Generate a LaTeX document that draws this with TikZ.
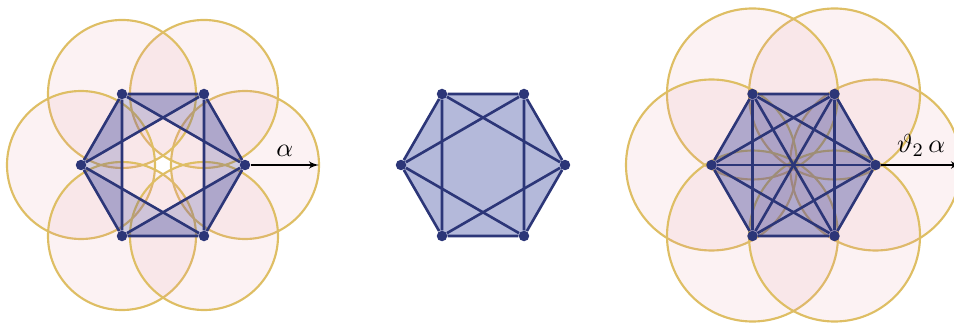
\documentclass[tikz,border=0pt]{standalone}
\usepackage{amsmath,amssymb}
\usetikzlibrary{arrows,calc,backgrounds}
\definecolor{hexline}{RGB}{44,54,120}
\definecolor{hexfill}{RGB}{40,55,150}
\definecolor{ringgold}{RGB}{222,190,100}
\definecolor{ringpink}{RGB}{230,150,160}
\begin{document}
\begin{tikzpicture}[x=0.42pt, y=0.42pt, >=latex',
    vtx/.style={circle, fill=hexline, inner sep=0pt, minimum size=4.4pt},
    edge/.style={draw=hexline, line width=1.1pt},
    ring/.style={draw=ringgold, line width=0.9pt, fill=ringpink, fill opacity=0.12},
    ear/.style={fill=hexfill, fill opacity=0.2},
    hexarea/.style={fill=hexfill, fill opacity=0.35},
    radius/.style={->, black, line width=0.5pt},
    lbl/.style={font=\fontsize{11}{13}\selectfont}]
    \useasboundingbox (0,-159) rectangle (954,165);
    % Vertices of the three hexagons
    \foreach \i in {0,...,5} {
        \node[vtx] (l\i) at ($(163,0)+(60*\i:82)$) {};
        \node[vtx] (m\i) at ($(483,0)+(60*\i:82)$) {};
        \node[vtx] (r\i) at ($(793.5,0)+(60*\i:82)$) {};
    }
    \begin{pgfonlayer}{background}
        % Left: discs of radius alpha, ear triangles
        \foreach \i in {0,...,5}
            \draw[ring] (l\i.center) circle (74);
        \foreach \i/\j/\k in {0/1/2,1/2/3,2/3/4,3/4/5,4/5/0,5/0/1}
            \fill[ear] (l\i.center) -- (l\j.center) -- (l\k.center) -- cycle;
        % Middle: full hexagon
        \fill[hexarea] (m0.center) -- (m1.center) -- (m2.center) -- (m3.center) -- (m4.center) -- (m5.center) -- cycle;
        % Right: discs of radius theta_2 alpha, full hexagon
        \foreach \i in {0,...,5}
            \draw[ring] (r\i.center) circle (85.5);
        \fill[hexarea] (r0.center) -- (r1.center) -- (r2.center) -- (r3.center) -- (r4.center) -- (r5.center) -- cycle;
    \end{pgfonlayer}
    % Sides and short diagonals
    \foreach \i/\j/\k in {0/1/2,1/2/3,2/3/4,3/4/5,4/5/0,5/0/1} {
        \draw[edge] (l\i) -- (l\j) (l\i) -- (l\k);
        \draw[edge] (m\i) -- (m\j) (m\i) -- (m\k);
        \draw[edge] (r\i) -- (r\j) (r\i) -- (r\k);
    }
    % Long diagonals (right only)
    \foreach \i/\j in {0/3,1/4,2/5}
        \draw[edge] (r\i) -- (r\j);
    % Radii
    \coordinate (lend) at ($(l0)+(74,0)$);
    \coordinate (rend) at ($(r0)+(85.5,0)$);
    \draw[radius] (l0) -- (lend) node[midway, above, lbl] {$\alpha$};
    \draw[radius] (r0) -- (rend) node[midway, above, lbl] {$\vartheta_2\,\alpha$};
\end{tikzpicture}
\end{document}
